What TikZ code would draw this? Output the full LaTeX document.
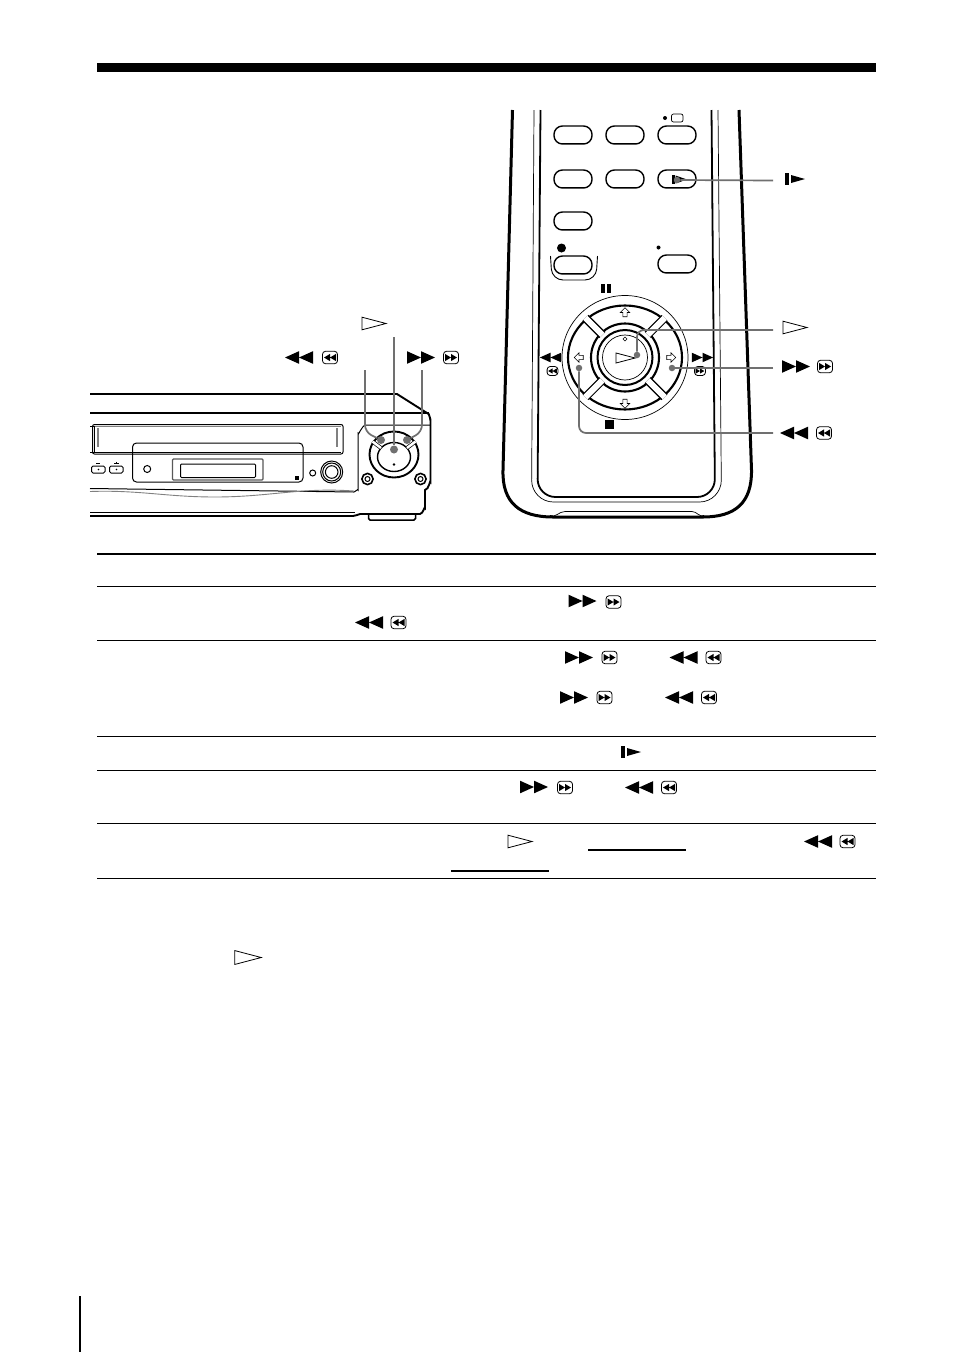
\documentclass[tikz,border=0pt]{standalone}
\usepackage{tikz}

\begin{document}
\begin{tikzpicture}[x=1pt,y=-1pt,
      rule_thin/.style ={draw=black, line width=1.2pt},
      lead_gray/.style ={draw=gray_lead, line width=1.7pt, rounded corners=7pt},
      dot_gray/.style ={circle, fill=gray_lead, inner sep=0pt, minimum size=6.5pt},
      dot_large/.style ={circle, fill=gray_lead, inner sep=0pt, minimum size=8pt},
      body_heavy/.style ={draw=black, line width=3pt},
      body_mid/.style ={draw=black, line width=1.8pt, rounded corners=18pt},
      body_light/.style ={draw=black, line width=0.7pt, rounded corners=22pt},
      vcr_line/.style ={draw=black, line width=1pt},
      vcr_heavy/.style ={draw=black, line width=1.9pt},
      vcr_soft/.style ={draw=black!50, line width=0.9pt},
      key_round/.style ={draw=black, line width=1.4pt, fill=white, rounded corners=8.5pt},
      pics/ffw/.style ={code={
        \fill (-14,-6.3) -- (0,0) -- (0,-6.3) -- (14,0) -- (0,6.3) -- (0,0) -- (-14,6.3) -- cycle;}},
      pics/rew/.style ={code={
        \fill (14,-6.3) -- (0,0) -- (0,-6.3) -- (-14,0) -- (0,6.3) -- (0,0) -- (14,6.3) -- cycle;}},
      pics/tape_ffw/.style ={code={
        \draw[line width=0.8pt, rounded corners=3pt] (-7.5,-6.2) rectangle (7.5,6.2);
        \fill (-6,-3.6) -- (0,0) -- (0,-3.6) -- (6,0) -- (0,3.6) -- (0,0) -- (-6,3.6) -- cycle;}},
      pics/tape_rew/.style ={code={
        \draw[line width=0.8pt, rounded corners=3pt] (-7.5,-6.2) rectangle (7.5,6.2);
        \fill (6,-3.6) -- (0,0) -- (0,-3.6) -- (-6,0) -- (0,3.6) -- (0,0) -- (6,3.6) -- cycle;}},
      pics/play/.style ={code={
        \draw[line width=0.8pt] (-12,-6.3) -- (12,0) -- (-12,6.3) -- cycle;}},
      pics/slow/.style ={code={
        \fill (-10,-6.3) rectangle (-6,6.3);
        \fill (-4,-4) -- (10,0) -- (-4,4) -- cycle;}},
      pics/arrow_up/.style ={code={
        \draw[line width=0.6pt] (0,-5) -- (5,0) -- (2.3,0) -- (2.3,4.5) -- (-2.3,4.5) -- (-2.3,0) -- (-5,0) -- cycle;}}]
    %
    \definecolor{gray_lead}{RGB}{112,112,112}
    \path[use as bounding box, fill=white] (0,0) rectangle (954,1352);
    %
    % 1. page rules
    \fill (97,63) rectangle (876,72);
    \fill (79,1296) rectangle (81,1352);
    \foreach \ypos/\wdth in {554/1.8, 586.5/1.2, 640.5/1.2, 736.5/1.2, 770.5/1.2, 823.5/1.2, 878.5/1.2} {
      \draw[rule_thin, line width=\wdth pt] (97,\ypos) -- (876,\ypos);
    }
    \draw[rule_thin] (588,850) -- (686,850);
    \draw[rule_thin] (451,871) -- (549,871);
    %
    % 2. icons in the table
    \pic at (582.5,601) {ffw};
    \pic at (613.5,602) {tape_ffw};
    \pic at (369,622.5) {rew};
    \pic at (398.5,622.5) {tape_rew};
    \pic at (579,657.5) {ffw};
    \pic at (609.5,657.5) {tape_ffw};
    \pic at (683.5,657.5) {rew};
    \pic at (713.5,657.5) {tape_rew};
    \pic at (574,697.5) {ffw};
    \pic at (604.5,697.5) {tape_ffw};
    \pic at (679,697.5) {rew};
    \pic at (709,697.5) {tape_rew};
    \pic at (631,752) {slow};
    \pic at (534,787) {ffw};
    \pic at (565,787.5) {tape_ffw};
    \pic at (639,787.5) {rew};
    \pic at (669,787.5) {tape_rew};
    \pic at (520,841.5) {play};
    \pic at (818,841.5) {rew};
    \pic at (847.5,841.5) {tape_rew};
    \pic[scale=1.1] at (248,957.5) {play};
    %
    % 3. front of the recorder
    \draw[vcr_heavy] (90,394) -- (397,394) -- (427,413) to[out=20,in=270] (430.5,420) -- (430.5,482)
      to[out=90,in=0] (425,490) -- (425,508) to[out=90,in=0] (420,514) -- (360,514) to[out=180,in=-10] (353,516) -- (90,516);
    \draw[vcr_heavy] (90,413) -- (429,413);
    \draw[vcr_line] (430,425) -- (366,425) to[out=180,in=270] (358,433) -- (358,490) to[out=90,in=0] (354,492);
    % tape slot
    \draw[vcr_line, rounded corners=2pt] (92.5,424.5) rectangle (343,454);
    \draw[vcr_soft, line width=1.6pt] (94,426.5) -- (341,426.5);
    \draw[vcr_line] (94,452) -- (341,452);
    \draw[vcr_line] (90,452.5) -- (95,452.5);
    \draw[vcr_line] (90,426) -- (95,426);
    \draw[vcr_line] (94.5,426) -- (94.5,452);
    \draw[vcr_soft, line width=1.6pt] (98,428) -- (98,447);
    \draw[vcr_soft, line width=1.6pt] (337,428) -- (337,447);
    \draw[vcr_line, rounded corners=4pt] (132.5,443) rectangle (303,482);
    \draw[draw=black!65, line width=1.2pt, rounded corners=1pt] (172.5,459) rectangle (263,480);
    \draw[vcr_line, rounded corners=1pt] (180.5,464) rectangle (255.5,477.5);
    \fill (295,475.5) rectangle (298.5,479.5);
    \draw[vcr_line] (147.2,469) circle (3.5);
    \draw[vcr_line] (312.7,473) circle (3);
    \draw[vcr_line] (331.7,472) circle (11);
    \draw[vcr_line] (331.7,472) circle (9);
    \draw[vcr_line] (331.7,472) circle (6.3);
    % small buttons by the slot
    \draw[vcr_line, rounded corners=1.5pt] (91.5,466) rectangle (105,473);
    \draw[vcr_line, rounded corners=1.5pt] (109.5,466) rectangle (123,473);
    \draw[vcr_line] (96,463.5) -- (100,463.5);
    \draw[vcr_line] (114,463.5) -- (119,463.5);
    \draw[vcr_line] (116.5,461.5) -- (116.5,463.5);
    \fill (98.5,469.5) circle (0.9);
    \fill (116.5,469.5) circle (0.9);
    % lower edge of the front
    \draw[vcr_line] (90,488.5) -- (354,492);
    \draw[vcr_soft] (90,491.5) to[out=2,in=180] (215,497) to[out=0,in=176] (354,491);
    \draw[vcr_line] (90,512) -- (355,512);
    \draw[draw=black, line width=1.5pt, rounded corners=1.5pt] (368.5,514) -- (368.5,520) -- (415.5,520) -- (415.5,514);
    % dial
    \draw[draw=black, line width=1.9pt] (394,454.5) ellipse (24.5 and 23);
    \draw[draw=black, line width=1.4pt] (394,457) ellipse (16.5 and 14.5);
    \fill (394,464.5) circle (1.3);
    \draw[draw=black, line width=0.7pt, double=white, double distance=2.5pt] (372.5,441.5) -- (381,448);
    \draw[draw=black, line width=0.7pt, double=white, double distance=2.5pt] (415.5,441.5) -- (407,448);
    \draw[draw=black, line width=1.6pt] (367.5,479) circle (5.6);
    \draw[vcr_line] (367.5,479) circle (2.5);
    \draw[draw=black, line width=1.6pt] (420.5,479) circle (5.6);
    \draw[vcr_line] (420.5,479) circle (2.5);
    %
    % 4. remote commander, casing
    \draw[body_heavy] (512.5,110) -- (503,470) .. controls (502,503) and (520,517) .. (553,517) -- (703,517)
      .. controls (735,517) and (752,503) .. (751.5,470) -- (739,110);
    \draw[body_light] (534,110) -- (531.5,502) -- (721.5,502) -- (718,110);
    \draw[body_mid] (540.5,110) -- (537.5,497) -- (715,497) -- (711.5,110);
    \draw[draw=black, line width=0.7pt] (550,515.5) to[out=-25,in=180] (565,511.5) -- (692,511.5) to[out=0,in=205] (704,515.5);
    %
    % 5. remote commander, keys
    \foreach \xpos/\ypos in {573/135, 625/135, 677/135, 573/179, 625/179, 677/179, 573/221, 573/265, 677/264} {
      \draw[key_round] (\xpos-19,\ypos-9) rectangle (\xpos+19,\ypos+9);
      \draw[draw=black, line width=0.8pt] (\xpos-12,\ypos+8.6) -- (\xpos+12,\ypos+8.6);
    }
    \draw[draw=black, line width=0.9pt, rounded corners=11pt] (550.5,256) -- (552,280) -- (596,280) -- (597.5,256);
    \fill (561.5,248) circle (4.5);
    \fill (658.5,247.5) circle (2);
    \fill (665,118) circle (2);
    \draw[draw=black, line width=0.7pt, rounded corners=2pt] (671.5,114) rectangle (683,122);
    \fill (672,174.5) rectangle (674.5,184);
    \fill (675.5,175.5) -- (687,179.5) -- (675.5,183.5) -- cycle;
    \fill (601,284) rectangle (604.5,293);
    \fill (607,284) rectangle (610.5,293);
    \fill (605,420) rectangle (614,429);
    %
    % 6. remote commander, round pad
    \draw[draw=black, line width=0.7pt] (625,357.5) ellipse (63 and 62);
    \draw[draw=black, line width=2.1pt] (625,357.5) ellipse (57 and 52);
    \draw[draw=black, line width=2.1pt] (625,357.5) circle (34);
    \foreach \ang/\wd in {45/1.4,135/1.1,225/1.4,315/1.1} {
      \draw[draw=black, line width=\wd pt, double=white, double distance=6pt]
        (625,357.5) ++(\ang:32) -- ++(\ang:24);
    }
    \draw[draw=black, line width=2pt] (625,357.5) circle (27.5);
    \draw[draw=black, line width=0.7pt] (625,357.5) circle (22.5);
    \pic[scale=0.8] at (625.5,358) {play};
    \draw[line width=0.5pt] (625,337) -- (627,339) -- (625,341) -- (623,339) -- cycle;
    \pic[scale=0.95] at (625,312.5) {arrow_up};
    \pic[rotate=180, scale=0.95] at (625,403.5) {arrow_up};
    \pic[rotate=-90, scale=0.95] at (671,357.5) {arrow_up};
    \pic[rotate=90, scale=0.95] at (579,357.5) {arrow_up};
    \pic[scale=0.76] at (550.5,357.5) {rew};
    \pic[scale=0.72] at (552.5,371) {tape_rew};
    \pic[scale=0.76] at (702.5,357.5) {ffw};
    \pic[scale=0.72] at (700,371) {tape_ffw};
    %
    % 7. labels beside the two drawings
    \pic at (374,323.5) {play};
    \pic at (299,357.5) {rew};
    \pic at (330,357.5) {tape_rew};
    \pic at (421,357.5) {ffw};
    \pic at (451,357.5) {tape_ffw};
    \pic at (795,179) {slow};
    \pic at (795,327.5) {play};
    \pic at (796,366.5) {ffw};
    \pic at (825,366.5) {tape_ffw};
    \pic at (794,433) {rew};
    \pic at (824,433) {tape_rew};
    %
    % 8. gray leader lines
    \node[dot_large] (dial_play) at (394,449.5) {};
    \node[dot_large] (dial_rew) at (381,440) {};
    \node[dot_large] (dial_ffw) at (407,440) {};
    \node[dot_gray] (pad_slow) at (677,180) {};
    \node[dot_gray] (pad_play) at (637,355) {};
    \node[dot_gray] (pad_ffw) at (672,368) {};
    \node[dot_gray] (pad_rew) at (579,368) {};
    \coordinate (lead_play) at (394,337);
    \coordinate (lead_rew) at (365,370);
    \coordinate (lead_ffw) at (422,370);
    \coordinate (lead_slow) at (773,180.5);
    \coordinate (lead_padplay) at (773,330);
    \coordinate (lead_padffw) at (773,368);
    \coordinate (lead_padrew) at (773,433);
    \begin{scope}[every path/.style=lead_gray]
      \path (lead_play) -- (dial_play);
      \path (lead_rew) -- (365,432) -- (dial_rew);
      \path (lead_ffw) -- (422,432) -- (dial_ffw);
      \path (lead_slow) -- (pad_slow);
      \path (lead_padplay) -- (637,330) -- (pad_play);
      \path (lead_padffw) -- (pad_ffw);
      \path (lead_padrew) -- (579,433) -- (pad_rew);
    \end{scope}
\end{tikzpicture}
\end{document}
